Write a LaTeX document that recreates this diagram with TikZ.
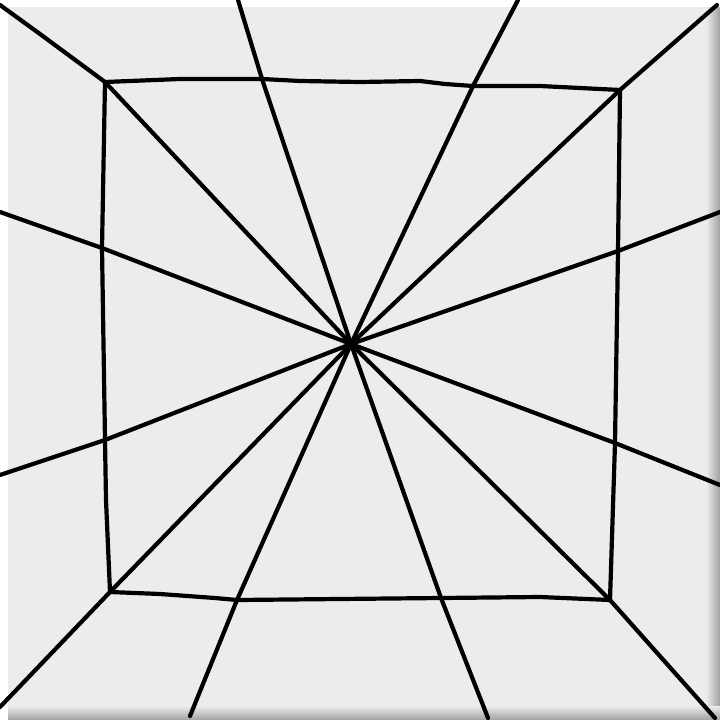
\documentclass[tikz,border=0pt]{standalone}
\begin{document}
\begin{tikzpicture}[x=1pt,y=-1pt,
  ink/.style={draw=black,line width=4.2pt,line cap=round,line join=round}]
\definecolor{canvas}{RGB}{236,236,236}
\definecolor{edge}{RGB}{160,160,160}
\useasboundingbox (0,0) rectangle (720,720);
\fill[white] (0,0) rectangle (720,720);
\fill[canvas] (8,7) rectangle (720,720);
\shade[left color=canvas,right color=edge] (706,7) rectangle (720,720);
\shade[top color=canvas,bottom color=edge] (8,706) rectangle (720,720);
\coordinate (C) at (351,344);
% frame
\draw[ink] (105,82) -- (180,79) -- (262,79) -- (300,81) -- (360,82) -- (420,81) -- (445,84) -- (473,86) -- (540,86) -- (620,90)
  -- (618,251) -- (615,443) -- (610,600)
  -- (540,597) -- (441,598) -- (237,600) -- (215,598) -- (160,594) -- (110,592)
  -- (106,500) -- (105,440) -- (102,248) -- cycle;
% radial lines
\draw[ink] (0,5) -- (40,34) -- (105,82) -- (C);
\draw[ink] (238,0) -- (262,79) -- (C);
\draw[ink] (518,0) -- (473,86) -- (C);
\draw[ink] (717,5) -- (620,90) -- (C);
\draw[ink] (720,212) -- (618,251) -- (C);
\draw[ink] (720,485) -- (615,443) -- (C);
\draw[ink] (715,718) -- (610,600) -- (C);
\draw[ink] (488,718) -- (441,598) -- (C);
\draw[ink] (190,716) -- (237,600) -- (C);
\draw[ink] (0,707) -- (110,592) -- (C);
\draw[ink] (0,475) -- (105,440) -- (C);
\draw[ink] (0,212) -- (102,248) -- (C);
\end{tikzpicture}
\end{document}
